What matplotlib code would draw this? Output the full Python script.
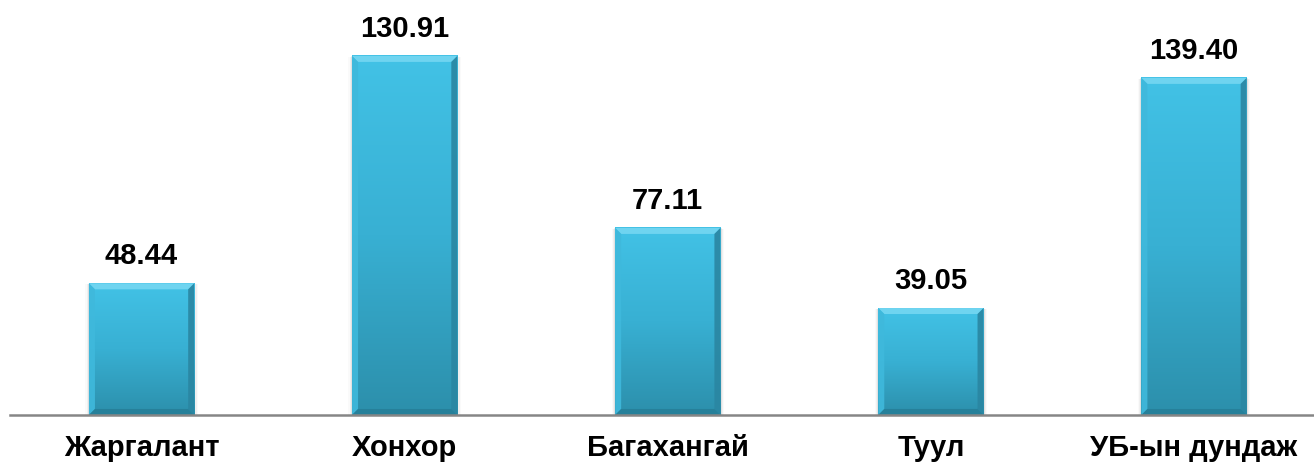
import matplotlib
matplotlib.use("Agg")
import matplotlib.pyplot as plt
import numpy as np
from matplotlib.patches import Polygon, Rectangle
from matplotlib.colors import LinearSegmentedColormap

plt.rcParams['font.family'] = ['Liberation Sans', 'DejaVu Sans']

categories = ["Жаргалант", "Хонхор", "Багахангай", "Туул", "УБ-ын дундаж"]
value_labels = ["48.44", "130.91", "77.11", "39.05", "139.40"]
# bar heights as drawn in the picture (same units as labels)
bar_heights = [48.0, 130.91, 68.2, 39.0, 122.9]

W, H = 1314, 463
fig = plt.figure(figsize=(W / 100, H / 100), dpi=100)
ax = fig.add_axes([10 / W, (H - 415) / H, 1 - 10 / W, 415 / H])
ax.set_xlim(-0.5, 4.456)
ax.set_ylim(0, 151.3)
for s in ['top', 'right', 'left']:
    ax.spines[s].set_visible(False)
ax.spines['bottom'].set_color('#868686')
ax.spines['bottom'].set_linewidth(1.8)
ax.spines['bottom'].set_zorder(5)
ax.set_yticks([])
ax.set_xticks(range(len(categories)))
ax.set_xticklabels(categories, fontsize=21, fontweight='bold')
ax.tick_params(axis='x', length=0, pad=14)

bw = 0.40
bars = ax.bar(range(len(categories)), bar_heights, width=bw, color='#3bb6d9', zorder=2)

cmap = LinearSegmentedColormap.from_list('b', ['#2c8fab', '#38b0d3', '#42c2e6'])
bx = 6 / 263.1
by = 6 / 2.742
for b, lab in zip(bars, value_labels):
    x0, w, h = b.get_x(), b.get_width(), b.get_height()
    b.set_visible(False)
    # soft shadow
    for k, a in enumerate([0.06, 0.04, 0.02]):
        d = (k + 1) * 1.2 / 263.1
        ax.add_patch(Rectangle((x0 - d, -0.6 - k * 0.4), w + 2 * d, h + 0.4 + k * 0.3,
                               color='#000000', alpha=a, lw=0, zorder=1))
    grad = np.linspace(0, 1, 256).reshape(-1, 1)
    ax.imshow(grad, extent=(x0, x0 + w, 0, h), origin='lower', cmap=cmap, aspect='auto',
              zorder=2, interpolation='bilinear')
    # bevels
    ax.add_patch(Polygon([(x0, h), (x0 + w, h), (x0 + w - bx, h - by), (x0 + bx, h - by)],
                         closed=True, color='#6fd4f0', lw=0, zorder=3))
    ax.add_patch(Polygon([(x0, h), (x0 + bx, h - by), (x0 + bx, by), (x0, 0)],
                         closed=True, color='#3fb9dc', lw=0, zorder=3, alpha=0.9))
    ax.add_patch(Polygon([(x0 + w, h), (x0 + w - bx, h - by), (x0 + w - bx, by), (x0 + w, 0)],
                         closed=True, color='#2a86a2', lw=0, zorder=3, alpha=0.9))
    ax.add_patch(Polygon([(x0, 0), (x0 + bx, by), (x0 + w - bx, by), (x0 + w, 0)],
                         closed=True, color='#26809a', lw=0, zorder=3))
    ax.annotate(lab, (x0 + w / 2, h), xytext=(0, 19), textcoords='offset pixels',
                ha='center', va='baseline', fontsize=21, fontweight='bold', color='#000000')

ax.set_xlim(-0.5, 4.456)
ax.set_ylim(0, 151.3)
fig.savefig('out.png', dpi=100)
